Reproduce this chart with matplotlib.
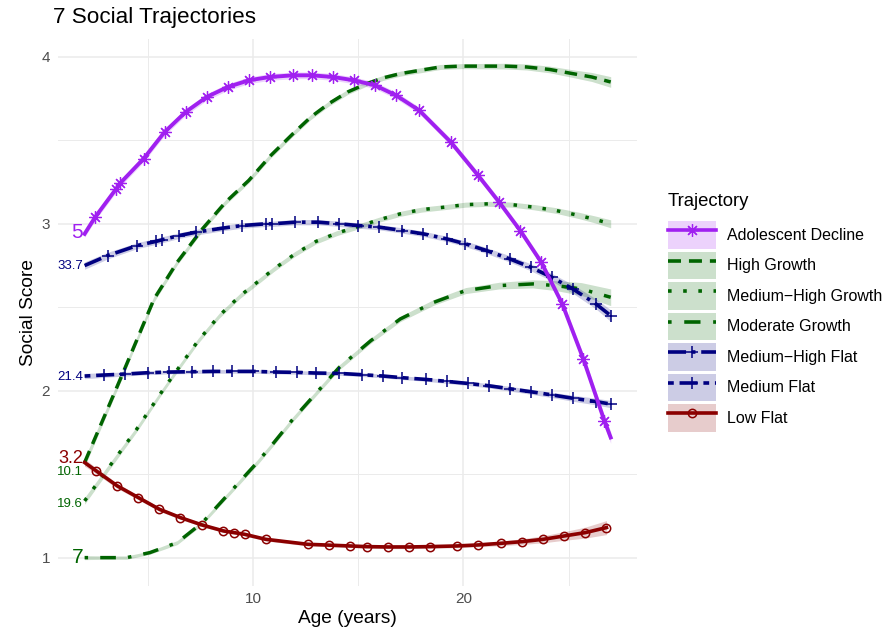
import matplotlib
matplotlib.use("Agg")
import matplotlib.pyplot as plt
from matplotlib.lines import Line2D
from matplotlib.patches import Patch

plt.rcParams['font.family'] = ['Liberation Sans', 'DejaVu Sans']

# trajectory names in legend order
names = ["Adolescent Decline", "High Growth", "Medium\u2212High Growth", "Moderate Growth",
         "Medium\u2212High Flat", "Medium Flat", "Low Flat"]

adol_age = [2.0, 2.5, 3.5, 3.7, 4.8, 5.8, 6.8, 7.8, 8.8, 9.8, 10.8, 11.9, 12.8, 13.8,
            14.8, 15.8, 16.8, 17.9, 19.4, 20.7, 21.7, 22.7, 23.7, 24.7, 25.7, 26.7, 27.0]
adol_score = [2.94, 3.04, 3.21, 3.245, 3.39, 3.55, 3.67, 3.76, 3.82, 3.86, 3.88, 3.89, 3.89, 3.88,
              3.86, 3.83, 3.77, 3.68, 3.49, 3.29, 3.13, 2.96, 2.77, 2.52, 2.19, 1.82, 1.72]
adol_band = [0.02, 0.02, 0.02, 0.02, 0.02, 0.02, 0.02, 0.02, 0.02, 0.02, 0.02, 0.02, 0.02, 0.02,
             0.02, 0.02, 0.02, 0.02, 0.02, 0.02, 0.02, 0.02, 0.022, 0.025, 0.028, 0.032, 0.035]

high_age = [2.0, 3.8, 5.3, 6.4, 7.6, 8.7, 9.8, 10.85, 11.9, 12.75, 13.6, 14.5, 15.4, 16.2,
            17.0, 18.9, 19.9, 20.9, 22.0, 23.0, 24.1, 25.2, 26.1, 27.0]
high_score = [1.57, 2.10, 2.55, 2.77, 2.97, 3.13, 3.26, 3.41, 3.54, 3.64, 3.72, 3.79, 3.84, 3.875,
              3.90, 3.94, 3.945, 3.945, 3.945, 3.94, 3.925, 3.90, 3.88, 3.85]
high_band = [0.025, 0.02, 0.018, 0.016, 0.015, 0.015, 0.015, 0.015, 0.015, 0.015, 0.015, 0.015, 0.015, 0.015,
             0.015, 0.015, 0.015, 0.016, 0.017, 0.018, 0.02, 0.023, 0.027, 0.032]

mhg_age = [2.0, 3.2, 4.45, 5.7, 6.2, 7.4, 8.4, 9.4, 10.2, 11.0, 12.0, 13.0, 14.0, 14.9, 16.0,
           17.0, 18.0, 19.1, 20.1, 21.2, 22.3, 23.35, 24.4, 25.5, 26.3, 27.0]
mhg_score = [1.34, 1.55, 1.765, 2.0, 2.09, 2.30, 2.45, 2.57, 2.65, 2.73, 2.82, 2.895, 2.945, 2.98, 3.025,
             3.06, 3.085, 3.10, 3.115, 3.12, 3.115, 3.10, 3.08, 3.05, 3.025, 3.0]
mhg_band = [0.02, 0.018, 0.016, 0.015, 0.015, 0.015, 0.015, 0.015, 0.015, 0.015, 0.015, 0.015, 0.015, 0.015, 0.015,
            0.015, 0.015, 0.015, 0.015, 0.015, 0.015, 0.016, 0.017, 0.019, 0.021, 0.024]

mod_age = [2.0, 3.0, 4.0, 5.1, 6.4, 7.6, 8.9, 10.2, 11.0, 11.9, 13.0, 14.1, 15.6, 17.0,
           18.6, 20.1, 21.7, 23.3, 24.4, 25.6, 27.0]
mod_score = [1.0, 1.0, 1.0, 1.03, 1.09, 1.21, 1.39, 1.57, 1.69, 1.83, 1.985, 2.14, 2.30, 2.43,
             2.53, 2.60, 2.63, 2.64, 2.63, 2.61, 2.56]
mod_band = [0.012, 0.01, 0.01, 0.01, 0.012, 0.013, 0.014, 0.015, 0.015, 0.015, 0.015, 0.015, 0.015, 0.016,
            0.017, 0.018, 0.02, 0.024, 0.03, 0.038, 0.05]

mhf_age = [2.0, 3.1, 4.5, 5.4, 5.7, 6.5, 7.3, 8.6, 9.5, 10.6, 10.9, 12.0, 13.1, 14.1, 15.0, 16.0,
           17.1, 18.1, 19.2, 20.1, 21.1, 22.2, 23.2, 24.2, 25.2, 26.3, 27.0]
mhf_score = [2.75, 2.81, 2.87, 2.895, 2.905, 2.93, 2.95, 2.975, 2.99, 3.0, 3.0, 3.01, 3.01, 3.0, 2.99, 2.98,
             2.96, 2.94, 2.91, 2.88, 2.84, 2.79, 2.74, 2.68, 2.61, 2.52, 2.45]
mhf_band = [0.022, 0.02, 0.018, 0.018, 0.018, 0.017, 0.017, 0.016, 0.016, 0.016, 0.016, 0.016, 0.016, 0.016, 0.016, 0.016,
            0.016, 0.016, 0.016, 0.017, 0.018, 0.019, 0.021, 0.023, 0.026, 0.03, 0.035]

mf_age = [2.0, 2.9, 3.9, 5.0, 6.0, 7.1, 8.1, 9.0, 10.0, 11.1, 12.1, 13.0, 14.1, 15.2, 16.2,
          17.1, 18.2, 19.2, 20.2, 21.2, 22.2, 23.2, 24.2, 25.2, 26.3, 27.0]
mf_score = [2.088, 2.094, 2.10, 2.108, 2.112, 2.114, 2.116, 2.116, 2.116, 2.112, 2.11, 2.106, 2.104, 2.096, 2.088,
            2.078, 2.068, 2.056, 2.044, 2.03, 2.012, 1.994, 1.975, 1.955, 1.935, 1.92]
mf_band = [0.016, 0.014, 0.012, 0.012, 0.011, 0.011, 0.011, 0.011, 0.011, 0.011, 0.011, 0.011, 0.011, 0.011, 0.011,
           0.011, 0.011, 0.012, 0.012, 0.013, 0.014, 0.015, 0.016, 0.018, 0.02, 0.022]

low_age = [2.0, 2.55, 3.55, 4.55, 5.55, 6.55, 7.6, 8.6, 9.1, 9.6, 10.6, 12.6, 13.6, 14.6, 15.4,
           16.4, 17.4, 18.4, 19.7, 20.7, 21.8, 22.8, 23.8, 24.8, 25.8, 26.8]
low_score = [1.57, 1.52, 1.43, 1.36, 1.29, 1.24, 1.195, 1.16, 1.15, 1.14, 1.11, 1.08, 1.075, 1.07, 1.066,
             1.064, 1.064, 1.066, 1.07, 1.076, 1.086, 1.096, 1.11, 1.13, 1.15, 1.18]
low_band = [0.022, 0.018, 0.015, 0.013, 0.012, 0.011, 0.01, 0.01, 0.01, 0.01, 0.01, 0.01, 0.01, 0.01, 0.01,
            0.01, 0.01, 0.01, 0.011, 0.012, 0.014, 0.017, 0.021, 0.026, 0.033, 0.042]

# start labels
lab_text = ["5", "33.7", "21.4", "3.2", "10.1", "19.6", "7"]
lab_y = [2.946, 2.748, 2.082, 1.595, 1.512, 1.323, 1.0]

purple = "#A020F0"
green = "#006400"
navy = "#000080"
dred = "#8B0000"

series = [
    (high_age, high_score, high_band, green, (0, (3.6, 2.2)), None, 3),
    (mhg_age, mhg_score, mhg_band, green, (0, (1, 3.2)), None, 3),
    (mod_age, mod_score, mod_band, green, (0, (1, 3.5, 4.5, 3.5)), None, 3),
    (mhf_age, mhf_score, mhf_band, navy, (0, (5, 1.6, 1, 1.6)), '+', 5),
    (mf_age, mf_score, mf_band, navy, (0, (1.6, 1.6, 5, 1.6)), '+', 5),
    (low_age, low_score, low_band, dred, '-', 'o', 6),
    (adol_age, adol_score, adol_band, purple, '-', (8, 2, 0), 7),
]
legend_idx = [6, 0, 1, 2, 3, 4, 5]
lab_colors = [purple, navy, navy, dred, green, green, green]
lab_sizes = [15, 9.5, 9.5, 13, 9.5, 9.5, 15]

fig = plt.figure(figsize=(8.85, 6.32), dpi=100)
ax = fig.add_axes([58.3 / 885, 1 - 586 / 632, (637 - 58.3) / 885, (586 - 38.6) / 632])

for age, score, band, col, ls, mk, z in series:
    lo = [s - b for s, b in zip(score, band)]
    hi = [s + b for s, b in zip(score, band)]
    ax.fill_between(age, lo, hi, color=col, alpha=0.2, lw=0, zorder=1)

for age, score, band, col, ls, mk, z in series:
    if mk is None:
        ax.plot(age, score, color=col, lw=2.5, ls=ls, zorder=z, solid_capstyle='butt', dash_capstyle='butt')
    elif mk == 'o':
        ax.plot(age, score, color=col, lw=2.6, ls=ls, zorder=z)
        ax.plot(age[1:], score[1:], ls='none', marker='o', ms=6, mfc='none', mec=col, mew=1.1, zorder=z)
    elif mk == '+':
        ax.plot(age, score, color=col, lw=2.6, ls=ls, zorder=z, dash_capstyle='butt')
        ax.plot(age[1:], score[1:], ls='none', marker='+', ms=9, mec=col, mew=1.1, zorder=z)
    else:
        ax.plot(age, score, color=col, lw=2.8, ls=ls, zorder=z)
        ax.plot(age[1:-1], score[1:-1], ls='none', marker=mk, ms=9, mec=col, mew=0.9, zorder=z)

for t, y, c, s in zip(lab_text, lab_y, lab_colors, lab_sizes):
    ax.annotate(t, (2.0, y), xytext=(-1, 0), textcoords='offset points',
                ha='right', va='center', color=c, fontsize=s, zorder=10)

ax.set_xlim(0.75, 28.25)
ax.set_ylim(0.83, 4.11)
ax.set_xticks([10, 20])
ax.set_xticks([5, 15, 25], minor=True)
ax.set_yticks([1, 2, 3, 4])
ax.set_yticks([1.5, 2.5, 3.5], minor=True)
ax.grid(True, which='major', color='#EBEBEB', lw=1.1)
ax.grid(True, which='minor', color='#EBEBEB', lw=0.7)
ax.set_axisbelow(True)
for sp in ax.spines.values():
    sp.set_visible(False)
ax.tick_params(which='both', length=0, labelsize=11, labelcolor='#4D4D4D')
ax.tick_params(axis='y', pad=6)
ax.tick_params(axis='x', pad=4)
ax.set_xlabel("Age (years)", fontsize=13.8, labelpad=3)
ax.set_ylabel("Social Score", fontsize=13.8, labelpad=3)
fig.text(53 / 885, 1 - 18 / 632, "7 Social Trajectories", fontsize=16.2, va='center', ha='left')

handles = []
for i in legend_idx:
    age, score, band, col, ls, mk, z = series[i]
    kw = dict(color=col, lw=2.6, ls=ls)
    if mk == 'o':
        kw.update(marker='o', mfc='none', mec=col, ms=6, mew=1.1)
    elif mk == '+':
        kw.update(marker='+', ms=9, mew=1.1)
    elif mk is not None:
        kw.update(marker=mk, ms=9, mew=0.9)
    handles.append((Patch(fc=col, alpha=0.2, ec='none'), Line2D([], [], **kw)))

fig.text(668 / 885, 1 - 201.5 / 632, "Trajectory", fontsize=13.3, va='center', ha='left')
leg = fig.legend(handles, names, loc='upper left', bbox_to_anchor=(668 / 885, 1 - 221 / 632),
                 frameon=False, fontsize=11.5,
                 handlelength=3.0, handleheight=2.3, labelspacing=0.17, handletextpad=0.7,
                 borderpad=0, borderaxespad=0, numpoints=1)

fig.savefig("out.png", dpi=100)
